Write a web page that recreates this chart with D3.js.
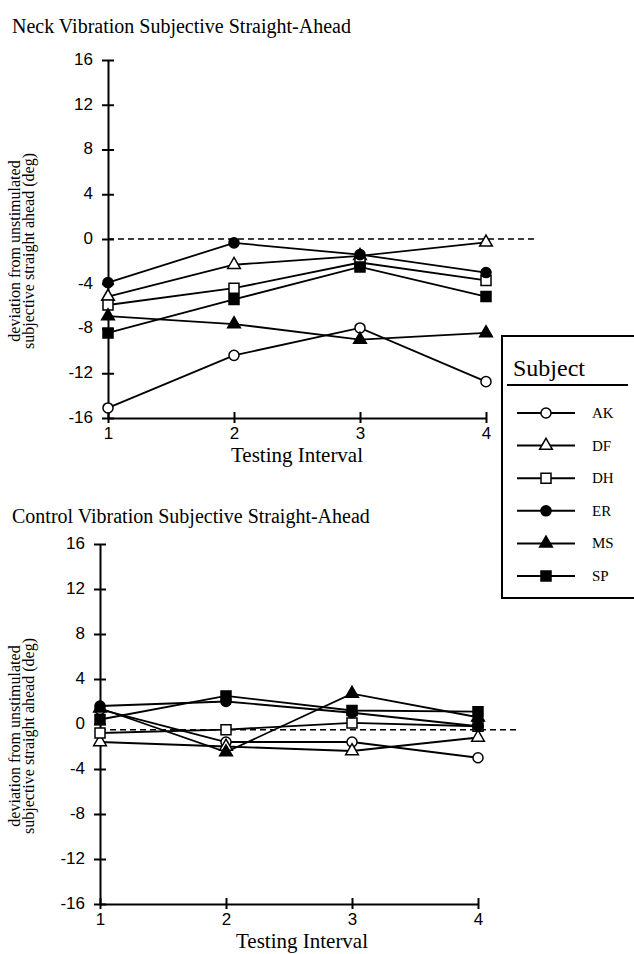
<!DOCTYPE html>
<html>
<head>
<meta charset="utf-8">
<script src="https://cdn.jsdelivr.net/npm/d3@7"></script>
<style>
  body { margin: 0; background: #fff; }
  svg { display: block; }
  .tick text { font-family: "Liberation Sans", Arial, sans-serif; font-size: 17px; fill: #000; }
  .serif { font-family: "Liberation Serif", "Times New Roman", serif; fill: #000; }
</style>
</head>
<body>
<svg id="chart"></svg>
<script>
// values, one row per subject, one column per testing interval
const intervals = [1, 2, 3, 4];
const subjects = ["AK", "DF", "DH", "ER", "MS", "SP"];
const yTicks = [16, 12, 8, 4, 0, -4, -8, -12, -16];

const neckValues = [
    [-15.1, -10.4, -7.95, -12.75],  // AK
    [-5.15, -2.3, -1.5, -0.3],      // DF
    [-5.9, -4.4, -2.1, -3.7],       // DH
    [-3.9, -0.35, -1.4, -3.0],      // ER
    [-6.9, -7.6, -9.0, -8.4],       // MS
    [-8.4, -5.4, -2.5, -5.15]       // SP
];

const controlValues = [
    [1.3, -1.6, -1.6, -3.0],        // AK
    [-1.6, -2.0, -2.4, -1.2],       // DF
    [-0.8, -0.5, 0.1, -0.2],        // DH
    [1.6, 2.0, 1.0, -0.2],          // ER
    [1.4, -2.5, 2.7, 0.6],          // MS
    [0.4, 2.5, 1.2, 1.1]            // SP
];

// reference (dashed) line of each panel
const neckBaseline = 0;
const controlBaseline = -0.5;

// marker style per subject
const markerStyle = {
    AK: {type: d3.symbolCircle, size: 80, filled: false},
    DF: {type: d3.symbolTriangle, size: 70, filled: false},
    DH: {type: d3.symbolSquare, size: 100, filled: false},
    ER: {type: d3.symbolCircle, size: 80, filled: true},
    MS: {type: d3.symbolTriangle, size: 70, filled: true},
    SP: {type: d3.symbolSquare, size: 100, filled: true}
};

const width = 634, height = 954;
const svg = d3.select("#chart").attr("width", width).attr("height", height);

function drawPanel(cfg) {
    const x = d3.scaleLinear().domain([1, 4]).range(cfg.xRange);
    // cfg.yRange is [top, bottom] in pixels
    const y = d3.scaleLinear().domain([-16, 16]).range([cfg.yRange[1], cfg.yRange[0]]);

    const g = svg.append("g");

    // title
    g.append("text")
        .attr("class", "serif")
        .attr("x", 12)
        .attr("y", cfg.titleY)
        .attr("font-size", 20)
        .text(cfg.title);

    // y axis, ticks crossing the line
    const yAxis = g.append("g")
        .attr("transform", `translate(${cfg.xRange[0]},0)`)
        .call(d3.axisLeft(y).tickValues(yTicks).tickSize(6).tickSizeOuter(0).tickPadding(9)
            .tickFormat(d => String(d)));
    yAxis.selectAll(".tick line").attr("x1", -6).attr("x2", 6);
    yAxis.selectAll(".tick text").attr("dy", "0.25em");

    // x axis
    const xAxis = g.append("g")
        .attr("transform", `translate(0,${cfg.yRange[1]})`)
        .call(d3.axisBottom(x).tickValues(intervals).tickSize(5).tickSizeOuter(0).tickPadding(4)
            .tickFormat(d => String(d)));
    xAxis.selectAll(".tick line").attr("y1", -6).attr("y2", 5);

    g.selectAll(".domain, .tick line").attr("stroke", "#000").attr("stroke-width", 2);

    // axis titles
    g.append("text")
        .attr("class", "serif")
        .attr("x", x(2.5) + cfg.xLabelShift)
        .attr("y", cfg.yRange[1] + 44)
        .attr("text-anchor", "middle")
        .attr("font-size", 21)
        .text("Testing Interval");

    const yMid = (cfg.yRange[0] + cfg.yRange[1]) / 2 + 12;
    const yl = g.append("text")
        .attr("class", "serif")
        .attr("font-size", 16)
        .attr("text-anchor", "middle")
        .attr("transform", `rotate(-90)`);
    yl.append("tspan").attr("x", -yMid).attr("y", 20).text("deviation from unstimulated");
    yl.append("tspan").attr("x", -yMid).attr("y", 34).text("subjective straight ahead (deg)");

    // dashed reference line
    g.append("line")
        .attr("x1", x(1))
        .attr("x2", x(4) + cfg.dashExtra)
        .attr("y1", y(cfg.baseline))
        .attr("y2", y(cfg.baseline))
        .attr("stroke", "#000")
        .attr("stroke-width", 1.5)
        .attr("stroke-dasharray", "6,4");

    const series = subjects.map((s, i) => ({
        name: s,
        points: intervals.map((t, j) => ({t: t, v: cfg.values[i][j]}))
    }));

    const line = d3.line().x(d => x(d.t)).y(d => y(d.v));

    g.append("g").selectAll("path")
        .data(series)
        .join("path")
        .attr("d", d => line(d.points))
        .attr("fill", "none")
        .attr("stroke", "#000")
        .attr("stroke-width", 1.8);

    const markers = g.append("g").selectAll("g")
        .data(series)
        .join("g");

    markers.selectAll("path")
        .data(d => d.points.map(p => Object.assign({name: d.name}, p)))
        .join("path")
        .attr("transform", d => `translate(${x(d.t)},${y(d.v)})`)
        .attr("d", d => d3.symbol(markerStyle[d.name].type, markerStyle[d.name].size)())
        .attr("fill", d => markerStyle[d.name].filled ? "#000" : "#fff")
        .attr("stroke", "#000")
        .attr("stroke-width", 1.5);
}

drawPanel({
    title: "Neck Vibration Subjective Straight-Ahead",
    titleY: 33,
    xRange: [108, 486],
    yRange: [60, 418],
    values: neckValues,
    baseline: neckBaseline,
    dashExtra: 48,
    xLabelShift: 0
});

drawPanel({
    title: "Control Vibration Subjective Straight-Ahead",
    titleY: 523,
    xRange: [100, 478],
    yRange: [544, 904],
    values: controlValues,
    baseline: controlBaseline,
    dashExtra: 42,
    xLabelShift: 13
});

// legend
const legend = svg.append("g").attr("transform", "translate(502,336)");
legend.append("rect")
    .attr("x", 0).attr("y", 0)
    .attr("width", 160).attr("height", 262)
    .attr("fill", "#fff")
    .attr("stroke", "#000")
    .attr("stroke-width", 2);
legend.append("text")
    .attr("class", "serif")
    .attr("x", 11).attr("y", 40)
    .attr("font-size", 24)
    .text("Subject");
legend.append("line")
    .attr("x1", 5).attr("x2", 126)
    .attr("y1", 49).attr("y2", 49)
    .attr("stroke", "#000").attr("stroke-width", 2);

const rowY = d3.scalePoint().domain(subjects).range([77, 240]);
const rows = legend.selectAll(".row")
    .data(subjects)
    .join("g")
    .attr("class", "row")
    .attr("transform", d => `translate(0,${rowY(d)})`);
rows.append("line")
    .attr("x1", 15).attr("x2", 73)
    .attr("stroke", "#000").attr("stroke-width", 2);
rows.append("path")
    .attr("transform", "translate(44,0)")
    .attr("d", d => d3.symbol(markerStyle[d].type, markerStyle[d].size)())
    .attr("fill", d => markerStyle[d].filled ? "#000" : "#fff")
    .attr("stroke", "#000")
    .attr("stroke-width", 1.5);
rows.append("text")
    .attr("class", "serif")
    .attr("x", 90).attr("y", 5)
    .attr("font-size", 15)
    .text(d => d);
</script>
</body>
</html>
